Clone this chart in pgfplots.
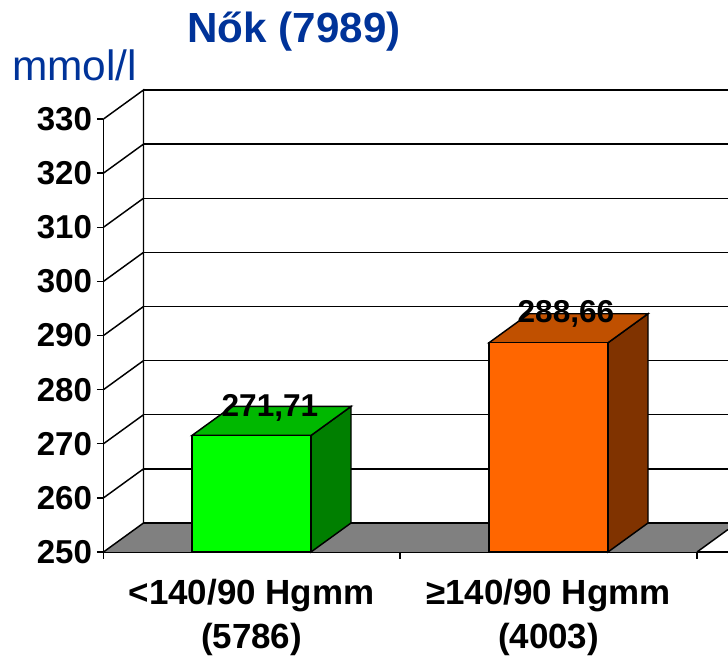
\documentclass[border=0pt]{standalone}
\usepackage{pgfplots}
\pgfplotsset{compat=1.18}
\usepackage{fontspec}
\setmainfont{Liberation Sans}
\definecolor{titleblue}{HTML}{003399}
\definecolor{wallgray}{HTML}{808080}
\definecolor{gfront}{HTML}{00FF00}
\definecolor{gtop}{HTML}{00B800}
\definecolor{gside}{HTML}{007F00}
\definecolor{ofront}{HTML}{FF6600}
\definecolor{otop}{HTML}{C05000}
\definecolor{oside}{HTML}{803300}
\begin{document}
\begin{tikzpicture}[x=0.75pt,y=0.75pt]
\useasboundingbox (-103.5,-104) rectangle (624.5,552);
\begin{axis}[
  at={(0pt,0pt)}, anchor=south west,
  scale only axis, width=468.375pt, height=324.75pt,
  xmin=103.5, xmax=728, ymin=250, ymax=330,
  clip=false,
  axis x line*=bottom, axis y line*=left,
  axis line style={line width=1.1pt,-},
  x axis line style={line width=1.1pt,-},
  every tick/.style={black,line width=1.1pt},
  major tick length=0pt, minor tick length=4.9pt,
  ytick={250,260,...,330},
  minor ytick={250,260,...,330},
  xtick={251.5,548.5},
  minor xtick={103.5,400,697},
  xticklabels={{<140/90 Hgmm\\(5786)},{≥140/90 Hgmm\\(4003)}},
  tick align=outside,
  /pgf/number format/assume math mode=true,
  /pgf/number format/.cd,set thousands separator={},
  /pgfplots/.cd,
  y tick label style={font=\bfseries\fontsize{24.8}{28}\selectfont,xshift=-5.4pt,inner sep=3pt},
  x tick label style={font=\bfseries\fontsize{26.2}{33}\selectfont,align=center,yshift=-16.5pt},
  unbounded coords=jump,
]
% floor
\addplot[draw=none,fill=wallgray,mark=none] coordinates {(103.5,250) (697,250) (728,254.16) (728,255.358) (143.5,255.358)} --cycle;
% side wall grid lines
\addplot[black,line width=1.1pt,mark=none] coordinates {
(103.5,250)(143.5,255.358)(143.5,335.358)(103.5,330)(143.5,335.358) (143.5,nan)
(103.5,260)(143.5,265.358)(103.5,nan)
(103.5,270)(143.5,275.358)(103.5,nan)
(103.5,280)(143.5,285.358)(103.5,nan)
(103.5,290)(143.5,295.358)(103.5,nan)
(103.5,300)(143.5,305.358)(103.5,nan)
(103.5,310)(143.5,315.358)(103.5,nan)
(103.5,320)(143.5,325.358)};
% back wall grid lines
\addplot[black,line width=1.1pt,mark=none] coordinates {
(143.5,265.358)(728,265.358)(143.5,nan)
(143.5,275.358)(728,275.358)(143.5,nan)
(143.5,285.358)(728,285.358)(143.5,nan)
(143.5,295.358)(728,295.358)(143.5,nan)
(143.5,305.358)(728,305.358)(143.5,nan)
(143.5,315.358)(728,315.358)(143.5,nan)
(143.5,325.358)(728,325.358)(143.5,nan)
(143.5,335.358)(728,335.358)};
\addplot[black,line width=1.6pt,mark=none] coordinates {(143.5,255.358)(728,255.358)};
\addplot[black,line width=1.1pt,mark=none] coordinates {(697,250)(728,254.16)};
% green bar
\addplot[draw=black,line width=1.1pt,fill=gside,mark=none] coordinates {(311,250)(351,255.358)(351,276.89)(311,271.53)} --cycle;
\addplot[draw=black,line width=1.1pt,fill=gtop,mark=none] coordinates {(192,271.53)(311,271.53)(351,276.89)(232,276.89)} --cycle;
\addplot[draw=black,line width=1.1pt,fill=gfront,mark=none] coordinates {(192,250)(311,250)(311,271.53)(192,271.53)} --cycle;
% orange bar
\addplot[draw=black,line width=1.1pt,fill=oside,mark=none] coordinates {(608,250)(648,255.358)(648,294.02)(608,288.66)} --cycle;
\addplot[draw=black,line width=1.1pt,fill=otop,mark=none] coordinates {(489,288.66)(608,288.66)(648,294.02)(529,294.02)} --cycle;
\addplot[draw=black,line width=1.1pt,fill=ofront,mark=none] coordinates {(489,250)(608,250)(608,288.66)(489,288.66)} --cycle;
% labels
\node[font=\bfseries\fontsize{23.7}{28}\selectfont,inner sep=0pt] at (axis cs:270,276.7) {271,71};
\node[font=\bfseries\fontsize{23.7}{28}\selectfont,inner sep=0pt] at (axis cs:566,293.9) {288,66};
\node[font=\bfseries\fontsize{31.6}{36}\selectfont,text=titleblue,inner sep=0pt,anchor=base] at (axis cs:294,344.2) {Nők (7989)};
\node[font=\fontsize{31.8}{36}\selectfont,text=titleblue,inner sep=0pt,anchor=base west] at (axis cs:12,337.2) {mmol/l};
\end{axis}
\end{tikzpicture}
\end{document}
